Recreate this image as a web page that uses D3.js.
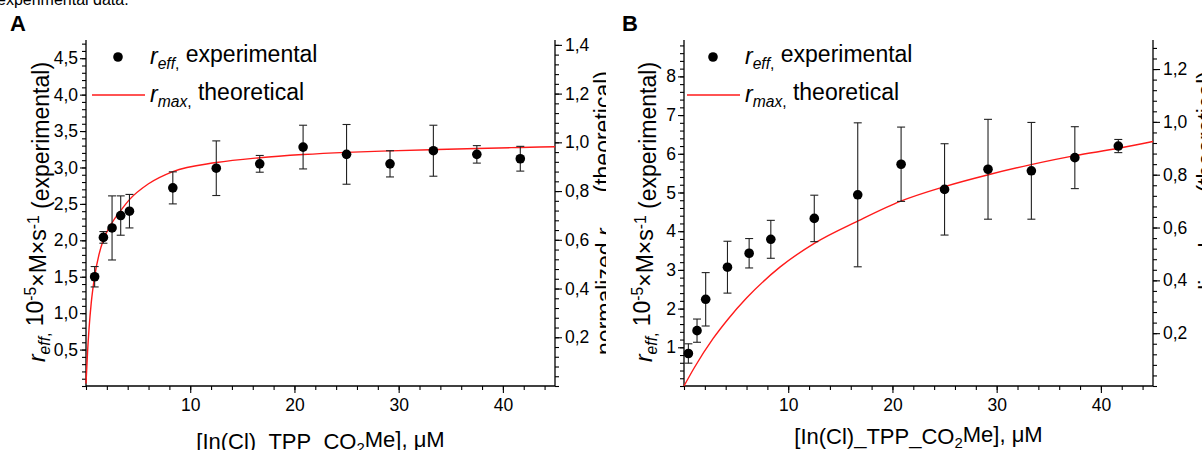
<!DOCTYPE html>
<html><head><meta charset="utf-8">
<script src="https://cdn.jsdelivr.net/npm/d3@7"></script>
<style>
body{margin:0;background:#fff}
svg{display:block}
text{font-family:"Liberation Sans",Arial,sans-serif;fill:#000}
</style>
</head><body>
<svg id="c" width="1202" height="450"></svg>
<script>
// ---------- data ----------
const concA = [0.83,1.67,2.5,3.33,4.17,8.33,12.5,16.67,20.83,25,29.17,33.33,37.5,41.67];
const reffA = [1.50,2.04,2.17,2.34,2.40,2.72,2.99,3.05,3.28,3.18,3.05,3.23,3.18,3.12];
const errA  = [0.14,0.08,0.44,0.27,0.23,0.22,0.375,0.115,0.30,0.41,0.18,0.35,0.12,0.17];
const curveXA = [0,0.15,0.3,0.5,0.83,1.25,1.67,2.5,3.33,4.17,6,8.33,12.5,16.67,20.83,25,29.17,33.33,37.5,41.67,45];
const curveYA = [0.01,0.14,0.24,0.34,0.45,0.54,0.60,0.67,0.72,0.765,0.83,0.88,0.917,0.937,0.950,0.959,0.965,0.970,0.975,0.979,0.982];

const concB = [0.42,1.25,2.08,4.17,6.25,8.33,12.5,16.67,20.83,25,29.17,33.33,37.5,41.67];
const reffB = [0.84,1.43,2.24,3.07,3.43,3.79,4.33,4.94,5.73,5.08,5.60,5.56,5.90,6.20];
const errB  = [0.25,0.30,0.69,0.67,0.38,0.49,0.60,1.86,0.96,1.18,1.29,1.25,0.80,0.17];
const curveXB = [0,1,2.8,4.2,6,9.2,12.5,16.7,20.8,25,29.2,33.3,37.5,41.7,45];
const curveYB = [0,0.07,0.18,0.252,0.333,0.45,0.54,0.625,0.70,0.755,0.80,0.838,0.872,0.90,0.926];

const xMajor = [10,20,30,40];
const yLeftMajorA = [0.5,1.0,1.5,2.0,2.5,3.0,3.5,4.0,4.5];
const yRightMajorA = [0.2,0.4,0.6,0.8,1.0,1.2,1.4];
const yLeftMajorB = [1,2,3,4,5,6,7,8];
const yRightMajorB = [0.2,0.4,0.6,0.8,1.0,1.2];

// ---------- helpers ----------
const svg = d3.select("#c");
const comma = v => d3.format(".1f")(v).replace(".", ",");
function steps(a, b, s){ const r=[]; for(let i=0;;i++){ const v=+(a+i*s).toFixed(4); if(v>b+1e-9) break; r.push(v);} return r; }

function rich(sel, parts){
  let shift = 0;
  parts.forEach(p=>{
    const t = sel.append("tspan").text(p.t);
    let target = 0;
    if(p.sub) target = 0.3; else if(p.sup) target = -0.45;
    const dy = target - shift;
    if(dy!==0) t.attr("dy", dy+"em");
    shift = target;
    if(p.sub||p.sup) t.attr("font-size","0.68em");
    if(p.it) t.attr("font-style","italic");
  });
  return sel;
}

function panel(o){
  const g = svg.append("g");
  const x = d3.scaleLinear().domain([0,45]).range([o.x0, o.x1]);
  const yl = d3.scaleLinear().domain(o.ylDom).range([386,40]);
  const yr = d3.scaleLinear().domain(o.yrDom).range([386,40]);
  const fs = 17.5;

  // axes
  const bottom = g.append("g").attr("transform","translate(0,386)");
  bottom.call(d3.axisBottom(x).tickValues(steps(0,45,2)).tickSize(4).tickFormat(""));
  bottom.append("g").call(d3.axisBottom(x).tickValues(xMajor).tickSize(7).tickPadding(6).tickFormat(d3.format("d")));
  const left = g.append("g").attr("transform",`translate(${o.x0},0)`);
  left.call(d3.axisLeft(yl).tickValues(o.ylMinor).tickSize(4).tickFormat(""));
  left.append("g").call(d3.axisLeft(yl).tickValues(o.ylMajor).tickSize(6).tickPadding(2).tickFormat(o.ylFmt));
  const right = g.append("g").attr("transform",`translate(${o.x1},0)`);
  right.call(d3.axisRight(yr).tickValues(o.yrMinor).tickSize(4).tickFormat(""));
  right.append("g").call(d3.axisRight(yr).tickValues(o.yrMajor).tickSize(7).tickPadding(3).tickFormat(comma));
  g.selectAll(".tick line").attr("stroke","#000").attr("stroke-width",1.1);
  g.selectAll(".tick text").attr("font-size",fs).attr("font-family","'Liberation Sans',Arial,sans-serif").attr("fill","#000");
  [bottom,left,right].forEach(a=>a.selectAll(".domain").remove());
  g.append("line").attr("x1",o.x0).attr("x2",o.x1).attr("y1",386).attr("y2",386).attr("stroke","#000").attr("stroke-width",1.3);
  g.append("line").attr("x1",o.x0).attr("x2",o.x0).attr("y1",40).attr("y2",386).attr("stroke","#000").attr("stroke-width",1.3);
  g.append("line").attr("x1",o.x1).attr("x2",o.x1).attr("y1",40).attr("y2",386).attr("stroke","#000").attr("stroke-width",1.3);

  // theoretical curve
  const pts = o.cx.map((v,i)=>[v,o.cy[i]]);
  g.append("path").datum(pts)
    .attr("d", d3.line().x(d=>x(d[0])).y(d=>yr(d[1])).curve(d3.curveMonotoneX))
    .attr("fill","none").attr("stroke","#ff1a1a").attr("stroke-width",1.4);

  // error bars + points
  const data = o.px.map((v,i)=>({x:v,y:o.py[i],e:o.pe[i]}));
  const eb = g.append("g").attr("stroke","#222").attr("stroke-width",1.1);
  data.forEach(d=>{
    const cx = x(d.x);
    eb.append("line").attr("x1",cx).attr("x2",cx).attr("y1",yl(d.y+d.e)).attr("y2",yl(d.y-d.e));
    eb.append("line").attr("x1",cx-4).attr("x2",cx+4).attr("y1",yl(d.y+d.e)).attr("y2",yl(d.y+d.e));
    eb.append("line").attr("x1",cx-4).attr("x2",cx+4).attr("y1",yl(d.y-d.e)).attr("y2",yl(d.y-d.e));
  });
  g.append("g").selectAll("circle").data(data).join("circle")
    .attr("cx",d=>x(d.x)).attr("cy",d=>yl(d.y)).attr("r",4.8).attr("fill","#000");

  // legend
  const lf = 23;
  g.append("circle").attr("cx",o.lg.dot).attr("cy",57).attr("r",4.8).attr("fill","#000");
  rich(g.append("text").attr("x",o.lg.tx).attr("y",64).attr("font-size",lf),
    [{t:"r",it:1},{t:"eff",it:1,sub:1},{t:",",sub:1},{t:" experimental"}]);
  g.append("line").attr("x1",o.lg.l0).attr("x2",o.lg.l1).attr("y1",95).attr("y2",95).attr("stroke","#ff1a1a").attr("stroke-width",1.4);
  rich(g.append("text").attr("x",o.lg.tx).attr("y",102).attr("font-size",lf),
    [{t:"r",it:1},{t:"max",it:1,sub:1},{t:",",sub:1},{t:" theoretical"}]);

  // left title
  rich(g.append("text").attr("transform",`translate(${o.ltx},212) rotate(-90)`).attr("text-anchor","middle").attr("font-size",23),
    [{t:"r",it:1},{t:"eff",it:1,sub:1},{t:",",sub:1},{t:" 10"},{t:"-5",sup:1},{t:"×M×s"},{t:"-1",sup:1},{t:" (experimental)"}]);
  // x title
  rich(g.append("text").attr("x",(o.x0+o.x1)/2).attr("y",o.xty).attr("text-anchor","middle").attr("font-size",22),
    [{t:"[In(Cl)_TPP_CO"},{t:"2",sub:1},{t:"Me], μM"}]);
  // right title (partly clipped)
  rich(g.append("text").attr("transform",`translate(${o.x1+o.rto},213) rotate(-90)`).attr("text-anchor","middle").attr("font-size",23),
    [{t:"normalized "},{t:"r",it:1},{t:"max",it:1,sub:1},{t:" (theoretical)"}]);
  return g;
}

// header (clipped text)
svg.append("text").attr("x",-3).attr("y",5).attr("font-size",16).text("experimental data.");

panel({x0:86,x1:555,ylDom:[0,4.75],yrDom:[0,1.42],
  ylMajor:yLeftMajorA, ylMinor:steps(0,4.75,0.1), ylFmt:comma,
  yrMajor:yRightMajorA, yrMinor:steps(0,1.42,0.04),
  cx:curveXA, cy:curveYA, px:concA, py:reffA, pe:errA,
  lg:{dot:118,tx:150,l0:92,l1:145}, ltx:45, xty:449, rto:58});

svg.append("rect").attr("x",606).attr("y",0).attr("width",600).attr("height",450).attr("fill","#fff");

panel({x0:684,x1:1153,ylDom:[0,8.94],yrDom:[0,1.31],
  ylMajor:yLeftMajorB, ylMinor:steps(0,8.94,0.2), ylFmt:d3.format("d"),
  yrMajor:yRightMajorB, yrMinor:steps(0,1.31,0.04),
  cx:curveXB, cy:curveYB, px:concB, py:reffB, pe:errB,
  lg:{dot:713,tx:745,l0:687,l1:740}, ltx:652, xty:444, rto:63});

// panel letters
svg.append("text").attr("x",10).attr("y",31).attr("font-family","'Liberation Serif','Times New Roman',serif").attr("font-weight","bold").attr("font-size",22).text("A");
svg.append("text").attr("x",622).attr("y",31).attr("font-family","'Liberation Serif','Times New Roman',serif").attr("font-weight","bold").attr("font-size",22).text("B");
</script>
</body></html>
